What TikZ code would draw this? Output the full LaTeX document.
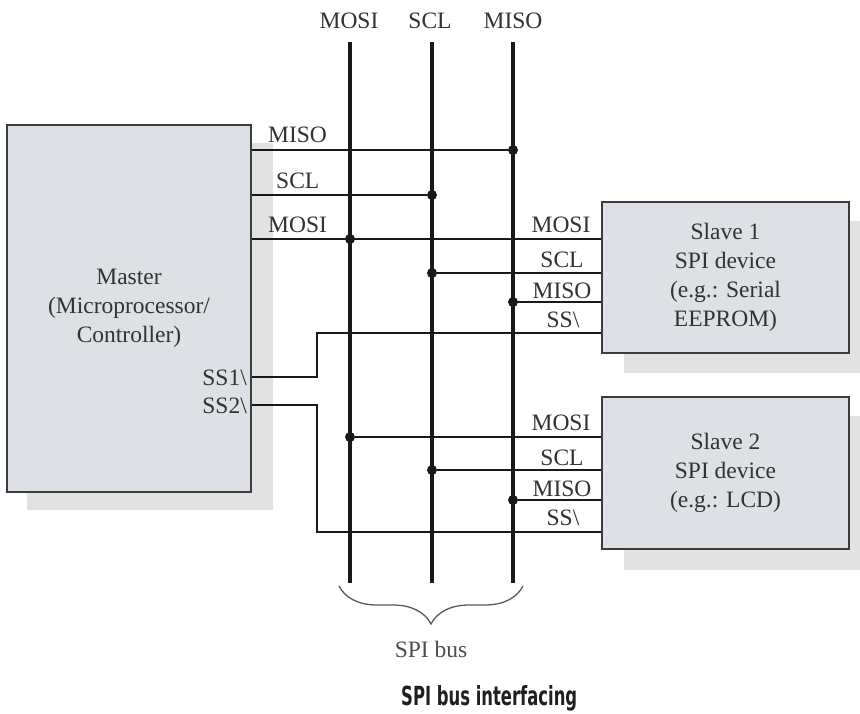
\documentclass[tikz,border=0pt]{standalone}
\usepackage{fontspec}
\setmainfont{Liberation Serif}
\newfontfamily\capfont{DejaVu Sans}
\usetikzlibrary{decorations.pathreplacing}
\definecolor{boxfill}{RGB}{221,224,228}
\definecolor{shadowfill}{RGB}{226,226,226}
\definecolor{txt}{RGB}{50,50,50}
\definecolor{ink}{RGB}{25,25,25}
\begin{document}
\begin{tikzpicture}[x=1pt,y=-1pt,
  font=\fontsize{23.5}{29}\selectfont, text=txt,
  box/.style={draw=ink!85, line width=1.8pt, fill=boxfill, inner sep=0pt, align=center},
  bus/.style={line width=4pt, draw=ink},
  sig/.style={line width=2pt, draw=ink},
  dot/.style={circle, fill=ink, inner sep=0pt, minimum size=10pt},
  lbl/.style={inner sep=0pt}
]
\useasboundingbox (0,0) rectangle (860,713);
% shadows
\fill[shadowfill] (27,143) rectangle (273,510);
\fill[shadowfill] (624,221) rectangle (860,373);
\fill[shadowfill] (624,416) rectangle (860,570);
% boxes
\node[box, minimum width=244pt, minimum height=367pt] (master) at (129,308.5) {Master\\(Microprocessor/\\Controller)};
\node[box, minimum width=247pt, minimum height=151pt] (slave1) at (725.5,277.5) {Slave 1\\SPI device\\(e.g.: Serial\\EEPROM)};
\node[box, minimum width=247pt, minimum height=152pt] (slave2) at (725.5,473) {Slave 2\\SPI device\\(e.g.: LCD)};
% bus lines
\coordinate (mosiT) at (350,42); \coordinate (mosiB) at (350,583);
\coordinate (sclT) at (432,42); \coordinate (sclB) at (432,583);
\coordinate (misoT) at (513,42); \coordinate (misoB) at (513,583);
\draw[bus] (mosiT) -- (mosiB);
\draw[bus] (sclT) -- (sclB);
\draw[bus] (misoT) -- (misoB);
\node[lbl, anchor=base] (tMosi) at (349,28) {MOSI};
\node[lbl, anchor=base] (tScl) at (430,28) {SCL};
\node[lbl, anchor=base] (tMiso) at (513,28) {MISO};
% junction dots
\node[dot] (d1) at (513,150) {};
\node[dot] (d2) at (432,195) {};
\node[dot] (d3) at (350,239) {};
\node[dot] (d4) at (432,273) {};
\node[dot] (d5) at (513,302) {};
\node[dot] (d6) at (350,437) {};
\node[dot] (d7) at (432,470) {};
\node[dot] (d8) at (513,500) {};
\coordinate (k1) at (317,377); \coordinate (k2) at (317,333);
\coordinate (k3) at (317,405); \coordinate (k4) at (317,532);
% master connections
\draw[sig] (master.east |- d1) -- (d1);
\draw[sig] (master.east |- d2) -- (d2);
\draw[sig] (master.east |- d3) -- (slave1.west |- d3);
% slave 1
\draw[sig] (d4) -- (slave1.west |- d4);
\draw[sig] (d5) -- (slave1.west |- d5);
\draw[sig] (master.east |- k1) -- (k1) -- (k2) -- (slave1.west |- k2);
% slave 2
\draw[sig] (d6) -- (slave2.west |- d6);
\draw[sig] (d7) -- (slave2.west |- d7);
\draw[sig] (d8) -- (slave2.west |- d8);
\draw[sig] (master.east |- k3) -- (k3) -- (k4) -- (slave2.west |- k4);
% master labels
\node[lbl, anchor=base west] (mMiso) at (268,142) {MISO};
\node[lbl, anchor=base west] (mScl) at (276,188) {SCL};
\node[lbl, anchor=base west] (mMosi) at (268,232) {MOSI};
\node[lbl, anchor=base east] (mSs1) at (247,385) {SS1\textbackslash};
\node[lbl, anchor=base east] (mSs2) at (247,413) {SS2\textbackslash};
% slave 1 labels
\node[lbl, anchor=base] (aMosi) at (561,232) {MOSI};
\node[lbl, anchor=base] (aScl) at (562,267) {SCL};
\node[lbl, anchor=base] (aMiso) at (562,298) {MISO};
\node[lbl, anchor=base] (aSs) at (563,327) {SS\textbackslash};
% slave 2 labels
\node[lbl, anchor=base] (bMosi) at (561,430) {MOSI};
\node[lbl, anchor=base] (bScl) at (562,465) {SCL};
\node[lbl, anchor=base] (bMiso) at (562,496) {MISO};
\node[lbl, anchor=base] (bSs) at (563,525) {SS\textbackslash};
% brace
\coordinate (brL) at (339,586); \coordinate (brR) at (523,586);
\draw[decorate, decoration={brace, mirror, amplitude=38pt}, line width=1.3pt, draw=black!65] (brL) -- (brR);
\node[lbl, anchor=base, text=black!70] (busLbl) at (431,657) {SPI bus};
\node[lbl, anchor=base west, text=black!88] (caption) at (401,705) {\resizebox{176pt}{20pt}{\capfont\bfseries SPI bus interfacing}};
\end{tikzpicture}
\end{document}
